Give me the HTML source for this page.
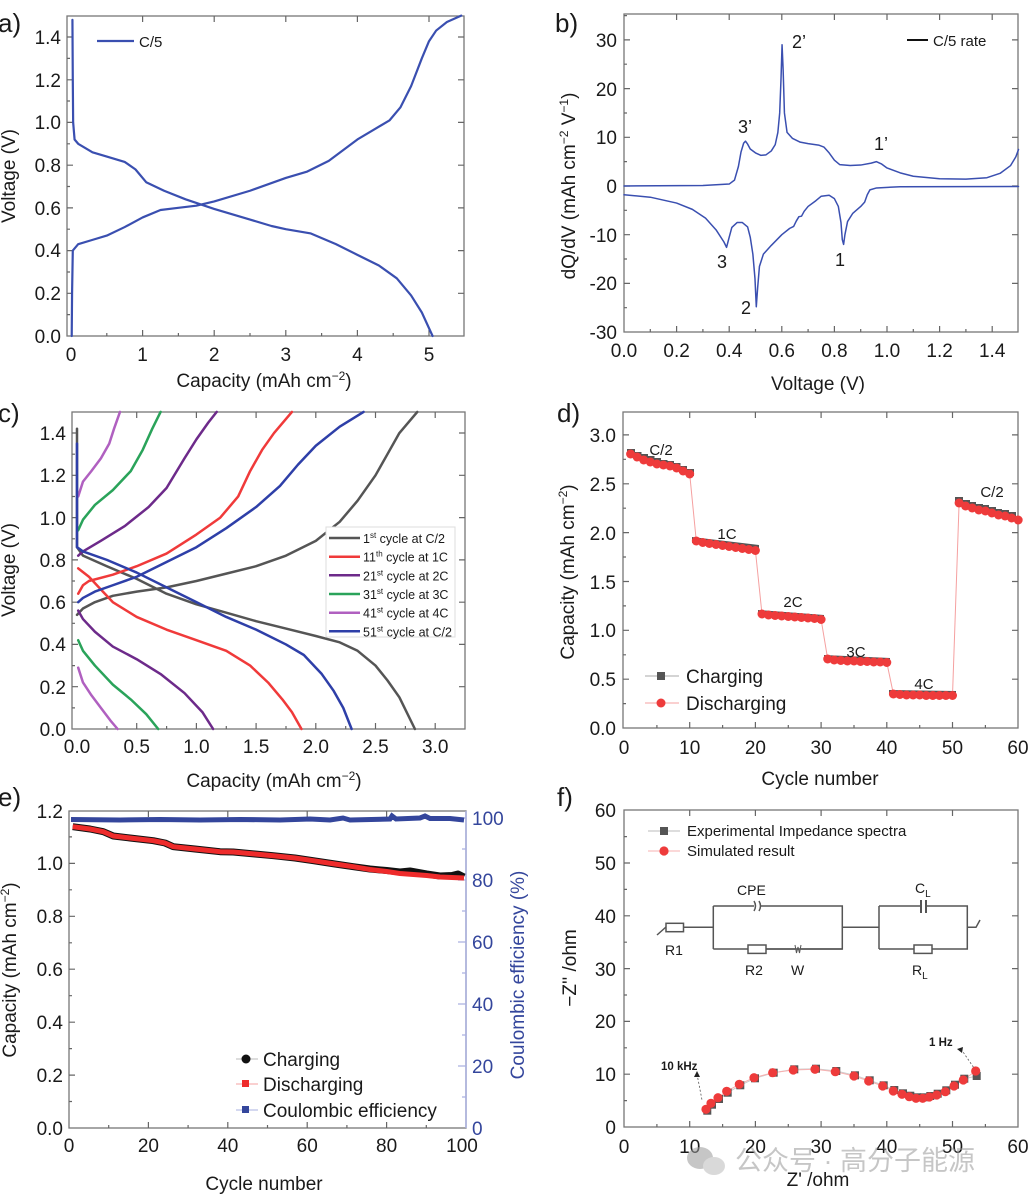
<!DOCTYPE html>
<html><head><meta charset="utf-8"><style>
html,body{margin:0;padding:0;background:#fff;}
svg{display:block;}
text{font-family:"Liberation Sans","Noto Sans CJK SC",sans-serif;fill:#1a1a1a;}
.tk{font-size:19px;}
.ttl{font-size:19px;}
.pl{font-size:26px;}
.box{fill:none;stroke:#777;stroke-width:1.3;}
.tick{stroke:#666;stroke-width:1.2;fill:none;}
.ln{fill:none;vector-effect:non-scaling-stroke;stroke-linejoin:round;stroke-linecap:round;}
</style></head><body>
<svg width="1029" height="1197" viewBox="0 0 1029 1197" xmlns="http://www.w3.org/2000/svg">

<!-- ================= PANEL A ================= -->
<text class="pl" x="-2" y="32">a)</text>
<rect class="box" x="67" y="16" width="397" height="320"/>
<path class="tick" d="M67 293.3h6M67 250.6h6M67 207.9h6M67 165.2h6M67 122.4h6M67 79.8h6M67 37h6
M464 293.3h-6M464 250.6h-6M464 207.9h-6M464 165.2h-6M464 122.4h-6M464 79.8h-6M464 37h-6
M67 314.6h3M67 272h3M67 229.2h3M67 186.5h3M67 143.8h3M67 101h3M67 58.4h3
M142.6 336v-6M214.2 336v-6M285.8 336v-6M357.4 336v-6M429 336v-6
M106.8 336v-3M178.4 336v-3M250 336v-3M321.6 336v-3M393.2 336v-3
M142.6 16v6M214.2 16v6M285.8 16v6M357.4 16v6M429 16v6"/>
<g class="tk" text-anchor="end">
<text x="61" y="343">0.0</text><text x="61" y="300">0.2</text><text x="61" y="257">0.4</text><text x="61" y="215">0.6</text><text x="61" y="172">0.8</text><text x="61" y="129">1.0</text><text x="61" y="87">1.2</text><text x="61" y="44">1.4</text>
</g>
<g class="tk" text-anchor="middle">
<text x="71" y="361">0</text><text x="142.6" y="361">1</text><text x="214.2" y="361">2</text><text x="285.8" y="361">3</text><text x="357.4" y="361">4</text><text x="429" y="361">5</text>
</g>
<text class="ttl" x="264" y="387" text-anchor="middle">Capacity (mAh cm<tspan dy="-7" font-size="12">−2</tspan><tspan dy="7">)</tspan></text>
<text class="ttl" transform="translate(15,176) rotate(-90)" text-anchor="middle">Voltage (V)</text>
<line x1="97" y1="41" x2="134" y2="41" stroke="#3a4fb0" stroke-width="2.2"/>
<text x="139" y="47" font-size="15">C/5</text>
<g transform="matrix(71.6 0 0 -213.6 71 336)">
<polyline class="ln" stroke="#3a4fb0" stroke-width="2.2" points="0.01,0 0.015,0.2 0.025,0.40 0.1,0.43 0.3,0.45 0.5,0.47 0.75,0.51 1,0.555 1.25,0.59 1.5,0.60 1.75,0.61 2,0.63 2.5,0.68 3,0.74 3.3,0.77 3.6,0.82 4,0.92 4.2,0.96 4.45,1.01 4.6,1.07 4.75,1.17 4.9,1.30 5.0,1.38 5.1,1.43 5.25,1.47 5.45,1.5"/>
<polyline class="ln" stroke="#3a4fb0" stroke-width="2.2" points="0.02,1.48 0.025,1.2 0.03,1.0 0.05,0.92 0.1,0.90 0.3,0.86 0.5,0.84 0.75,0.815 0.9,0.78 1.05,0.72 1.3,0.68 1.6,0.64 2,0.595 2.5,0.545 2.8,0.515 3,0.50 3.35,0.48 3.7,0.43 4,0.38 4.3,0.33 4.55,0.27 4.75,0.19 4.9,0.11 5.05,0"/>
</g>

<!-- ================= PANEL B ================= -->
<text class="pl" x="555" y="32">b)</text>
<rect class="box" x="624" y="14" width="394" height="318"/>
<path class="tick" d="M624 283.4h6M624 234.7h6M624 186h6M624 137.3h6M624 88.6h6M624 39.9h6
M624 307.7h3M624 259h3M624 210.3h3M624 161.6h3M624 113h3M624 64.2h3M624 15.6h3
M1018 283.4h-6M1018 234.7h-6M1018 186h-6M1018 137.3h-6M1018 88.6h-6M1018 39.9h-6
M676.6 332v-6M729.2 332v-6M781.8 332v-6M834.4 332v-6M887 332v-6M939.6 332v-6M992.2 332v-6
M650.3 332v-3M702.9 332v-3M755.5 332v-3M808.1 332v-3M860.7 332v-3M913.3 332v-3M965.9 332v-3
M676.6 14v6M729.2 14v6M781.8 14v6M834.4 14v6M887 14v6M939.6 14v6M992.2 14v6"/>
<g class="tk" text-anchor="end">
<text x="617" y="339">-30</text><text x="617" y="290">-20</text><text x="617" y="242">-10</text><text x="617" y="193">0</text><text x="617" y="144">10</text><text x="617" y="96">20</text><text x="617" y="47">30</text>
</g>
<g class="tk" text-anchor="middle">
<text x="624" y="357">0.0</text><text x="676.6" y="357">0.2</text><text x="729.2" y="357">0.4</text><text x="781.8" y="357">0.6</text><text x="834.4" y="357">0.8</text><text x="887" y="357">1.0</text><text x="939.6" y="357">1.2</text><text x="992.2" y="357">1.4</text>
</g>
<text class="ttl" x="818" y="390" text-anchor="middle">Voltage (V)</text>
<text class="ttl" transform="translate(575,186) rotate(-90)" text-anchor="middle">dQ/dV (mAh cm<tspan dy="-7" font-size="12">−2</tspan><tspan dy="7"> V</tspan><tspan dy="-7" font-size="12">−1</tspan><tspan dy="7">)</tspan></text>
<line x1="907" y1="40" x2="928" y2="40" stroke="#111" stroke-width="2"/>
<text x="933" y="46" font-size="15">C/5 rate</text>
<g transform="matrix(263 0 0 -4.87 624 186)">
<polyline class="ln" stroke="#3a4fb0" stroke-width="1.5" points="0,0 0.3,0.1 0.40,0.4 0.42,1.2 0.435,4 0.445,7 0.455,8.8 0.462,9.2 0.47,8.6 0.48,7.6 0.5,6.8 0.52,6.3 0.54,6.4 0.56,7.2 0.575,8.5 0.585,11 0.592,15 0.597,22 0.601,29 0.605,24 0.61,15 0.62,11 0.64,9.8 0.67,9 0.7,8.7 0.74,8.4 0.76,8 0.78,6.8 0.8,5.3 0.82,4.4 0.86,4.2 0.9,4.3 0.94,4.7 0.96,5 0.98,4.5 1.0,3.7 1.05,2.7 1.1,2.0 1.2,1.5 1.3,1.4 1.38,1.7 1.43,2.6 1.47,4.2 1.49,6 1.5,7.5"/>
<polyline class="ln" stroke="#3a4fb0" stroke-width="1.5" points="0,-1.8 0.1,-2.3 0.2,-3.5 0.26,-4.8 0.31,-6.6 0.35,-9 0.38,-11.5 0.39,-12.6 0.40,-10.5 0.41,-8.5 0.43,-7.5 0.45,-7.5 0.47,-8.4 0.48,-10.5 0.49,-14 0.498,-19 0.503,-24.8 0.508,-21 0.515,-16.5 0.53,-14 0.56,-12.2 0.6,-10 0.63,-8.7 0.645,-8.3 0.655,-7.2 0.665,-6.3 0.675,-6.2 0.685,-5.2 0.7,-4.2 0.73,-3 0.75,-2.1 0.78,-1.9 0.8,-2.6 0.815,-4.2 0.825,-7.5 0.83,-11 0.835,-12 0.84,-10 0.85,-7.3 0.87,-5.6 0.9,-4.2 0.915,-3.3 0.925,-1.8 0.935,-0.8 0.96,-0.4 1.05,-0.15 1.5,-0.1"/>
</g>
<g font-size="18">
<text x="738" y="133">3’</text><text x="792" y="48">2’</text><text x="874" y="150">1’</text>
<text x="717" y="268">3</text><text x="741" y="314">2</text><text x="835" y="266">1</text>
</g>

<!-- ================= PANEL C ================= -->
<text class="pl" x="-2" y="422">c)</text>
<rect class="box" x="72" y="412" width="393" height="317"/>
<path class="tick" d="M72 686.7h6M72 644.4h6M72 602.2h6M72 559.9h6M72 517.6h6M72 475.3h6M72 433h6
M72 707.9h3M72 665.6h3M72 623.3h3M72 581h3M72 538.8h3M72 496.5h3M72 454.2h3
M465 686.7h-6M465 644.4h-6M465 602.2h-6M465 559.9h-6M465 517.6h-6M465 475.3h-6M465 433h-6
M136.7 729v-6M196.4 729v-6M256.1 729v-6M315.8 729v-6M375.5 729v-6M435.2 729v-6
M106.9 729v-3M166.6 729v-3M226.3 729v-3M286 729v-3M345.7 729v-3M405.4 729v-3
M136.7 412v6M196.4 412v6M256.1 412v6M315.8 412v6M375.5 412v6M435.2 412v6"/>
<g class="tk" text-anchor="end">
<text x="66" y="736">0.0</text><text x="66" y="694">0.2</text><text x="66" y="651">0.4</text><text x="66" y="609">0.6</text><text x="66" y="567">0.8</text><text x="66" y="525">1.0</text><text x="66" y="482">1.2</text><text x="66" y="440">1.4</text>
</g>
<g class="tk" text-anchor="middle">
<text x="77" y="753">0.0</text><text x="136.7" y="753">0.5</text><text x="196.4" y="753">1.0</text><text x="256.1" y="753">1.5</text><text x="315.8" y="753">2.0</text><text x="375.5" y="753">2.5</text><text x="435.2" y="753">3.0</text>
</g>
<text class="ttl" x="274" y="787" text-anchor="middle">Capacity (mAh cm<tspan dy="-7" font-size="12">−2</tspan><tspan dy="7">)</tspan></text>
<text class="ttl" transform="translate(15,570) rotate(-90)" text-anchor="middle">Voltage (V)</text>
<g transform="matrix(119.4 0 0 -211.4 77 729)">
<polyline class="ln" stroke="#555" stroke-width="2.5" points="0,0.54 0.05,0.57 0.15,0.60 0.3,0.63 0.5,0.65 0.75,0.67 1,0.70 1.25,0.735 1.5,0.77 1.75,0.82 2,0.89 2.2,0.98 2.35,1.08 2.5,1.2 2.6,1.3 2.7,1.4 2.85,1.5"/>
<polyline class="ln" stroke="#555" stroke-width="2.5" points="0,1.42 0,0.86 0.05,0.82 0.25,0.77 0.5,0.71 0.75,0.64 1,0.59 1.25,0.55 1.5,0.51 1.75,0.475 2,0.44 2.2,0.41 2.35,0.37 2.5,0.3 2.6,0.23 2.7,0.15 2.83,0"/>
<polyline class="ln" stroke="#f03a3a" stroke-width="2.5" points="0.01,0.64 0.05,0.68 0.1,0.70 0.3,0.73 0.5,0.77 0.75,0.83 1,0.92 1.2,1.0 1.35,1.1 1.45,1.22 1.55,1.32 1.65,1.4 1.8,1.5"/>
<polyline class="ln" stroke="#f03a3a" stroke-width="2.5" points="0.01,0.76 0.1,0.72 0.2,0.66 0.3,0.6 0.5,0.53 0.75,0.47 1,0.42 1.25,0.37 1.45,0.3 1.6,0.22 1.72,0.14 1.8,0.08 1.88,0"/>
<polyline class="ln" stroke="#6d2a8a" stroke-width="2.5" points="0.01,0.82 0.05,0.84 0.2,0.89 0.4,0.96 0.6,1.05 0.75,1.14 0.9,1.28 1.0,1.37 1.1,1.45 1.17,1.5"/>
<polyline class="ln" stroke="#6d2a8a" stroke-width="2.5" points="0.01,0.56 0.05,0.52 0.15,0.46 0.3,0.39 0.5,0.33 0.7,0.26 0.9,0.17 1.05,0.08 1.14,0"/>
<polyline class="ln" stroke="#2aa35a" stroke-width="2.5" points="0.01,0.94 0.05,0.99 0.15,1.06 0.3,1.13 0.45,1.22 0.55,1.32 0.63,1.42 0.7,1.5"/>
<polyline class="ln" stroke="#2aa35a" stroke-width="2.5" points="0.01,0.42 0.05,0.37 0.15,0.30 0.3,0.21 0.45,0.14 0.58,0.07 0.68,0"/>
<polyline class="ln" stroke="#b060c0" stroke-width="2.5" points="0.01,1.1 0.05,1.17 0.12,1.22 0.2,1.28 0.27,1.35 0.31,1.42 0.36,1.5"/>
<polyline class="ln" stroke="#b060c0" stroke-width="2.5" points="0.01,0.29 0.05,0.22 0.12,0.16 0.2,0.1 0.28,0.04 0.34,0"/>
<polyline class="ln" stroke="#2e3fa8" stroke-width="2.5" points="0.01,0.6 0.05,0.62 0.15,0.65 0.3,0.68 0.5,0.72 0.75,0.79 1,0.86 1.25,0.95 1.5,1.05 1.7,1.15 1.85,1.25 2.0,1.34 2.2,1.43 2.4,1.5"/>
<polyline class="ln" stroke="#2e3fa8" stroke-width="2.5" points="0,1.35 0,0.86 0.05,0.84 0.25,0.80 0.5,0.74 0.75,0.67 1,0.60 1.25,0.53 1.5,0.47 1.75,0.40 1.9,0.35 2.05,0.26 2.15,0.18 2.23,0.1 2.3,0"/>
</g>
<rect x="326" y="527" width="129" height="110" fill="#fff" stroke="#ddd" stroke-width="1"/>
<g stroke-width="2.5">
<line x1="329" y1="538" x2="360" y2="538" stroke="#555"/>
<line x1="329" y1="556.7" x2="360" y2="556.7" stroke="#f03a3a"/>
<line x1="329" y1="575.3" x2="360" y2="575.3" stroke="#6d2a8a"/>
<line x1="329" y1="594" x2="360" y2="594" stroke="#2aa35a"/>
<line x1="329" y1="612.7" x2="360" y2="612.7" stroke="#b060c0"/>
<line x1="329" y1="631.3" x2="360" y2="631.3" stroke="#2e3fa8"/>
</g>
<g font-size="12.5">
<text x="363" y="543">1<tspan dy="-5" font-size="8">st</tspan><tspan dy="5"> cycle at C/2</tspan></text>
<text x="363" y="561.7">11<tspan dy="-5" font-size="8">th</tspan><tspan dy="5">  cycle at 1C</tspan></text>
<text x="363" y="580.3">21<tspan dy="-5" font-size="8">st</tspan><tspan dy="5"> cycle at 2C</tspan></text>
<text x="363" y="599">31<tspan dy="-5" font-size="8">st</tspan><tspan dy="5"> cycle at 3C</tspan></text>
<text x="363" y="617.7">41<tspan dy="-5" font-size="8">st</tspan><tspan dy="5"> cycle at 4C</tspan></text>
<text x="363" y="636.3">51<tspan dy="-5" font-size="8">st</tspan><tspan dy="5"> cycle at C/2</tspan></text>
</g>

<!-- ================= PANEL D ================= -->
<text class="pl" x="557" y="422">d)</text>
<rect class="box" x="623" y="412" width="395" height="316"/>
<path class="tick" d="M623 679.2h6M623 630.3h6M623 581.5h6M623 532.6h6M623 483.8h6M623 434.9h6
M623 703.6h3M623 654.8h3M623 605.9h3M623 557h3M623 508.2h3M623 459.3h3
M1018 679.2h-6M1018 630.3h-6M1018 581.5h-6M1018 532.6h-6M1018 483.8h-6M1018 434.9h-6
M689.7 728v-6M755.4 728v-6M821.1 728v-6M886.8 728v-6M952.5 728v-6
M656.9 728v-3M722.6 728v-3M788.3 728v-3M854 728v-3M919.7 728v-3M985.4 728v-3
M689.7 412v6M755.4 412v6M821.1 412v6M886.8 412v6M952.5 412v6"/>
<g class="tk" text-anchor="end">
<text x="616" y="735">0.0</text><text x="616" y="686">0.5</text><text x="616" y="637">1.0</text><text x="616" y="589">1.5</text><text x="616" y="540">2.0</text><text x="616" y="491">2.5</text><text x="616" y="442">3.0</text>
</g>
<g class="tk" text-anchor="middle">
<text x="624" y="754">0</text><text x="689.7" y="754">10</text><text x="755.4" y="754">20</text><text x="821.1" y="754">30</text><text x="886.8" y="754">40</text><text x="952.5" y="754">50</text><text x="1018" y="754">60</text>
</g>
<text class="ttl" x="820" y="785" text-anchor="middle">Cycle number</text>
<text class="ttl" transform="translate(574,572) rotate(-90)" text-anchor="middle">Capacity (mAh cm<tspan dy="-7" font-size="12">−2</tspan><tspan dy="7">)</tspan></text>
<polyline fill="none" stroke="#f5a0a0" stroke-width="1" points="630.6,454 689.7,474 696.3,541 755.4,550.5 762,614 821.1,619.5 827.7,659 886.8,662.5 893.4,694 952.5,695.5 959.1,503 1018.2,520"/>
<g fill="#555">
<rect x="627" y="449" width="8" height="7"/><rect x="633.5" y="452" width="8" height="7"/><rect x="640" y="454" width="8" height="7"/><rect x="646.5" y="456" width="8" height="7"/><rect x="653" y="458" width="8" height="7"/><rect x="659.5" y="460" width="8" height="7"/><rect x="666" y="461" width="8" height="7"/><rect x="672.5" y="463" width="8" height="7"/><rect x="679" y="466" width="8" height="7"/><rect x="686" y="469" width="8" height="7"/>
<polygon points="692,537 759,545 759,551 692,543"/>
<polygon points="758,610 824,615 824,620 758,615"/>
<polygon points="824,655 890,658 890,663 824,660"/>
<polygon points="889,690 956,691 956,696 889,695"/>
<rect x="955" y="497" width="8" height="7"/><rect x="962" y="500" width="8" height="7"/><rect x="968" y="502" width="8" height="7"/><rect x="975" y="504" width="8" height="7"/><rect x="981" y="505" width="8" height="7"/><rect x="988" y="507" width="8" height="7"/><rect x="994" y="509" width="8" height="7"/><rect x="1001" y="510" width="8" height="7"/><rect x="1008" y="512" width="8" height="7"/>
</g>
<g fill="#ee3b3b">
<circle cx="630.6" cy="454" r="4.5"/><circle cx="637.1" cy="457" r="4.5"/><circle cx="643.7" cy="460" r="4.5"/><circle cx="650.3" cy="462" r="4.5"/><circle cx="656.9" cy="464" r="4.5"/><circle cx="663.4" cy="465" r="4.5"/><circle cx="670" cy="466" r="4.5"/><circle cx="676.6" cy="468" r="4.5"/><circle cx="683.1" cy="471" r="4.5"/><circle cx="689.7" cy="474" r="4.5"/>
<circle cx="696.3" cy="541" r="4.5"/><circle cx="702.8" cy="542.5" r="4.5"/><circle cx="709.4" cy="543.5" r="4.5"/><circle cx="716" cy="544.5" r="4.5"/><circle cx="722.6" cy="545.5" r="4.5"/><circle cx="729.1" cy="546.5" r="4.5"/><circle cx="735.7" cy="547.5" r="4.5"/><circle cx="742.3" cy="548.5" r="4.5"/><circle cx="748.8" cy="549.5" r="4.5"/><circle cx="755.4" cy="550.5" r="4.5"/>
<circle cx="762" cy="614" r="4.5"/><circle cx="768.5" cy="615" r="4.5"/><circle cx="775.1" cy="615.5" r="4.5"/><circle cx="781.7" cy="616" r="4.5"/><circle cx="788.3" cy="616.5" r="4.5"/><circle cx="794.8" cy="617" r="4.5"/><circle cx="801.4" cy="617.5" r="4.5"/><circle cx="808" cy="618" r="4.5"/><circle cx="814.5" cy="618.5" r="4.5"/><circle cx="821.1" cy="619.5" r="4.5"/>
<circle cx="827.7" cy="659" r="4.5"/><circle cx="834.2" cy="660" r="4.5"/><circle cx="840.8" cy="660.5" r="4.5"/><circle cx="847.4" cy="661" r="4.5"/><circle cx="854" cy="661" r="4.5"/><circle cx="860.5" cy="661.5" r="4.5"/><circle cx="867.1" cy="661.5" r="4.5"/><circle cx="873.7" cy="662" r="4.5"/><circle cx="880.2" cy="662" r="4.5"/><circle cx="886.8" cy="662.5" r="4.5"/>
<circle cx="893.4" cy="694" r="4.5"/><circle cx="899.9" cy="694.5" r="4.5"/><circle cx="906.5" cy="695" r="4.5"/><circle cx="913.1" cy="695" r="4.5"/><circle cx="919.7" cy="695" r="4.5"/><circle cx="926.2" cy="695.5" r="4.5"/><circle cx="932.8" cy="695.5" r="4.5"/><circle cx="939.4" cy="695.5" r="4.5"/><circle cx="945.9" cy="695.5" r="4.5"/><circle cx="952.5" cy="695.5" r="4.5"/>
<circle cx="959.1" cy="503" r="4.5"/><circle cx="965.6" cy="506" r="4.5"/><circle cx="972.2" cy="508" r="4.5"/><circle cx="978.8" cy="510" r="4.5"/><circle cx="985.4" cy="511" r="4.5"/><circle cx="991.9" cy="513" r="4.5"/><circle cx="998.5" cy="515" r="4.5"/><circle cx="1005.1" cy="516" r="4.5"/><circle cx="1011.6" cy="518" r="4.5"/><circle cx="1018.2" cy="520" r="4.5"/>
</g>
<g font-size="15" text-anchor="middle">
<text x="661" y="455">C/2</text><text x="727" y="539">1C</text><text x="793" y="607">2C</text><text x="856" y="657">3C</text><text x="924" y="689">4C</text><text x="992" y="497">C/2</text>
</g>
<line x1="645" y1="676" x2="679" y2="676" stroke="#aaa" stroke-width="1"/>
<rect x="657" y="672" width="8" height="8" fill="#555"/>
<line x1="645" y1="703" x2="679" y2="703" stroke="#f5a0a0" stroke-width="1"/>
<circle cx="661" cy="703" r="4.5" fill="#ee3b3b"/>
<text x="686" y="683" font-size="19">Charging</text>
<text x="686" y="710" font-size="19">Discharging</text>

<!-- ================= PANEL E ================= -->
<text class="pl" x="-2" y="806">e)</text>
<rect class="box" x="69" y="811" width="397" height="317"/>
<line x1="466" y1="811" x2="466" y2="1128" stroke="#aab0e0" stroke-width="1.5"/>
<path class="tick" d="M69 1075.1h6M69 1022.2h6M69 969.2h6M69 916.3h6M69 863.4h6
M69 1101.5h3M69 1048.6h3M69 995.7h3M69 942.8h3M69 889.8h3M69 836.9h3
M148.4 1128v-6M227.8 1128v-6M307.2 1128v-6M386.6 1128v-6
M108.7 1128v-3M188.1 1128v-3M267.5 1128v-3M346.9 1128v-3M426.3 1128v-3
M148.4 811v6M227.8 811v6M307.2 811v6M386.6 811v6"/>
<path d="M466 1066h-8M466 1004h-8M466 942h-8M466 880h-8M466 818h-8M466 1097h-4M466 1035h-4M466 973h-4M466 911h-4M466 849h-4" stroke="#aab0e0" stroke-width="1.3"/>
<g class="tk" text-anchor="end">
<text x="63" y="1135">0.0</text><text x="63" y="1082">0.2</text><text x="63" y="1029">0.4</text><text x="63" y="976">0.6</text><text x="63" y="923">0.8</text><text x="63" y="870">1.0</text><text x="63" y="818">1.2</text>
</g>
<g class="tk" text-anchor="middle">
<text x="69" y="1152">0</text><text x="148.4" y="1152">20</text><text x="227.8" y="1152">40</text><text x="307.2" y="1152">60</text><text x="386.6" y="1152">80</text><text x="462" y="1152">100</text>
</g>
<g class="tk">
<text x="472" y="1135" style="fill:#34469c">0</text><text x="472" y="1073" style="fill:#34469c">20</text><text x="472" y="1011" style="fill:#34469c">40</text><text x="472" y="949" style="fill:#34469c">60</text><text x="472" y="887" style="fill:#34469c">80</text><text x="472" y="825" style="fill:#34469c">100</text>
</g>
<text class="ttl" x="264" y="1190" text-anchor="middle">Cycle number</text>
<text class="ttl" transform="translate(16,970) rotate(-90)" text-anchor="middle">Capacity (mAh cm<tspan dy="-7" font-size="12">−2</tspan><tspan dy="7">)</tspan></text>
<text class="ttl" transform="translate(524,975) rotate(-90)" text-anchor="middle" style="fill:#34469c">Coulombic efficiency (%)</text>
<polyline fill="none" stroke="#34469c" stroke-width="5" points="71,819.5 120,820 160,819.5 200,820 240,819.5 280,820 310,819 330,820 343,818 350,820 390,819 392,816 396,819 420,818 425,816 430,818.5 450,818.5 464,820"/>
<polyline fill="none" stroke="#111" stroke-width="7" stroke-linejoin="round" points="72.7,826.7 90,829 103.3,831.7 113.3,836 130,838 153.3,840.7 165,843 173.3,846.7 195,849 220,851.7 233.3,852 255,854 273.3,855.7 295,858 313.3,860.7 335,864 353.3,866.7 370,869 386.7,870.5 400,872 410,871 426.7,874 440,876 452,875.5 458,874 464,877"/>
<polyline fill="none" stroke="#ee2b2b" stroke-width="5" stroke-linejoin="round" points="72.7,826.7 90,829 103.3,831.7 113.3,836 130,838 153.3,840.7 165,843 173.3,846.7 195,849 220,851.7 233.3,852 255,854 273.3,855.7 295,858 313.3,860.7 335,864 353.3,866.7 370,869.5 386.7,871.5 400,873.5 426.7,875.5 440,877 452,877.5 464,878"/>
<line x1="236" y1="1059" x2="258" y2="1059" stroke="#bbb" stroke-width="1"/><circle cx="246" cy="1059" r="4.5" fill="#111"/>
<line x1="236" y1="1084" x2="258" y2="1084" stroke="#f5a0a0" stroke-width="1"/><rect x="242" y="1080" width="7" height="7" fill="#ee2b2b"/>
<line x1="236" y1="1110" x2="258" y2="1110" stroke="#aab0e0" stroke-width="1"/><rect x="242" y="1106" width="7" height="7" fill="#34469c"/>
<text x="263" y="1066" font-size="19">Charging</text>
<text x="263" y="1091" font-size="19">Discharging</text>
<text x="263" y="1117" font-size="19">Coulombic efficiency</text>

<!-- ================= PANEL F ================= -->
<text class="pl" x="557" y="806">f)</text>
<rect class="box" x="624" y="810" width="394" height="317"/>
<path class="tick" d="M624 1074.2h6M624 1021.4h6M624 968.6h6M624 915.8h6M624 863h6
M624 1100.6h3M624 1047.8h3M624 995h3M624 942.2h3M624 889.4h3M624 836.6h3
M1018 1074.2h-6M1018 1021.4h-6M1018 968.6h-6M1018 915.8h-6M1018 863h-6
M689.7 1127v-6M755.4 1127v-6M821.1 1127v-6M886.8 1127v-6M952.5 1127v-6
M656.9 1127v-3M722.6 1127v-3M788.3 1127v-3M854 1127v-3M919.7 1127v-3M985.4 1127v-3
M689.7 810v6M755.4 810v6M821.1 810v6M886.8 810v6M952.5 810v6"/>
<g class="tk" text-anchor="end">
<text x="616" y="1134">0</text><text x="616" y="1081">10</text><text x="616" y="1028">20</text><text x="616" y="976">30</text><text x="616" y="923">40</text><text x="616" y="870">50</text><text x="616" y="817">60</text>
</g>
<g class="tk" text-anchor="middle">
<text x="624" y="1153">0</text><text x="689.7" y="1153">10</text><text x="755.4" y="1153">20</text><text x="821.1" y="1153">30</text><text x="886.8" y="1153">40</text><text x="952.5" y="1153">50</text><text x="1018" y="1153">60</text>
</g>
<text class="ttl" x="818" y="1186" text-anchor="middle">Z' /ohm</text>
<text class="ttl" transform="translate(576,968) rotate(-90)" text-anchor="middle">−Z'' /ohm</text>
<g opacity="0.55">
<ellipse cx="700" cy="1158" rx="13" ry="11" fill="#999"/>
<ellipse cx="714" cy="1166" rx="11" ry="9" fill="#bbb"/>
<text x="735" y="1170" font-size="27" style="fill:#999">公众号 · 高分子能源</text>
</g>
<polyline fill="none" stroke="#ccc" stroke-width="1" points="707.3,1110.7 712,1104.7 719,1099 727.7,1092.7 740.3,1085.3 755,1078.3 773.7,1072.7 794.3,1069.3 816,1068.7 836.3,1071 855,1075.3 869.7,1080.3 883.7,1085.3 894.3,1090 903,1093.3 910.3,1095.7 917,1097.3 923.7,1097.3 930.3,1096 937.7,1093.7 946.3,1090.3 955,1084.7 964.3,1078.7 976.7,1076"/>
<polyline fill="none" stroke="#f7b0b0" stroke-width="1" points="706,1109.3 711,1103.3 718,1097.7 726.7,1091.3 739.3,1084.3 754,1077.7 772.7,1072.7 793.3,1070 815,1069.3 835.3,1071.7 854,1076 868.7,1081 882.7,1086 893.3,1091 902,1094.3 909.3,1096.7 916,1098.3 922.7,1098.3 929.3,1097 936.7,1095 945.3,1091.7 954,1086 963.3,1080 975.7,1071"/>
<g fill="#555">
<rect x="703.3" y="1106.7" width="8" height="8"/><rect x="708" y="1100.7" width="8" height="8"/><rect x="715" y="1095" width="8" height="8"/><rect x="723.7" y="1088.7" width="8" height="8"/><rect x="736.3" y="1081.3" width="8" height="8"/><rect x="751" y="1074.3" width="8" height="8"/><rect x="769.7" y="1068.7" width="8" height="8"/><rect x="790.3" y="1065.3" width="8" height="8"/><rect x="812" y="1064.7" width="8" height="8"/><rect x="832.3" y="1067" width="8" height="8"/><rect x="851" y="1071.3" width="8" height="8"/><rect x="865.7" y="1076.3" width="8" height="8"/><rect x="879.7" y="1081.3" width="8" height="8"/><rect x="890.3" y="1086" width="8" height="8"/><rect x="899" y="1089.3" width="8" height="8"/><rect x="906.3" y="1091.7" width="8" height="8"/><rect x="913" y="1093.3" width="8" height="8"/><rect x="919.7" y="1093.3" width="8" height="8"/><rect x="926.3" y="1092" width="8" height="8"/><rect x="933.7" y="1089.7" width="8" height="8"/><rect x="942.3" y="1086.3" width="8" height="8"/><rect x="951" y="1080.7" width="8" height="8"/><rect x="960.3" y="1074.7" width="8" height="8"/><rect x="972.7" y="1072" width="8" height="8"/>
</g>
<g fill="#ee3b3b">
<circle cx="706" cy="1109.3" r="4.6"/><circle cx="711" cy="1103.3" r="4.6"/><circle cx="718" cy="1097.7" r="4.6"/><circle cx="726.7" cy="1091.3" r="4.6"/><circle cx="739.3" cy="1084.3" r="4.6"/><circle cx="754" cy="1077.7" r="4.6"/><circle cx="772.7" cy="1072.7" r="4.6"/><circle cx="793.3" cy="1070" r="4.6"/><circle cx="815" cy="1069.3" r="4.6"/><circle cx="835.3" cy="1071.7" r="4.6"/><circle cx="854" cy="1076" r="4.6"/><circle cx="868.7" cy="1081" r="4.6"/><circle cx="882.7" cy="1086" r="4.6"/><circle cx="893.3" cy="1091" r="4.6"/><circle cx="902" cy="1094.3" r="4.6"/><circle cx="909.3" cy="1096.7" r="4.6"/><circle cx="916" cy="1098.3" r="4.6"/><circle cx="922.7" cy="1098.3" r="4.6"/><circle cx="929.3" cy="1097" r="4.6"/><circle cx="936.7" cy="1095" r="4.6"/><circle cx="945.3" cy="1091.7" r="4.6"/><circle cx="954" cy="1086" r="4.6"/><circle cx="963.3" cy="1080" r="4.6"/><circle cx="975.7" cy="1071" r="4.6"/>
</g>
<g font-size="11.5" font-weight="bold">
<text x="661" y="1070">10 kHz</text>
<text x="929" y="1046">1 Hz</text>
</g>
<path d="M697 1074 L702 1100" stroke="#555" stroke-width="0.8" stroke-dasharray="2,2" fill="none"/>
<path d="M694 1077 l3 -6 l3 6z" fill="#222"/>
<path d="M961 1049 L974 1068" stroke="#555" stroke-width="0.8" stroke-dasharray="2,2" fill="none"/>
<path d="M957 1049 l6 -2 l-1 6z" fill="#222"/>
<line x1="648" y1="831" x2="680" y2="831" stroke="#bbb" stroke-width="1"/><rect x="660" y="827" width="8" height="8" fill="#555"/>
<line x1="648" y1="851" x2="680" y2="851" stroke="#f7b0b0" stroke-width="1"/><circle cx="664" cy="851" r="4.6" fill="#ee3b3b"/>
<text x="687" y="836" font-size="15">Experimental Impedance spectra</text>
<text x="687" y="856" font-size="15">Simulated result</text>
<g stroke="#555" stroke-width="1.5" fill="none">
<path d="M657 935 L666 927"/>
<rect x="666" y="923.3" width="17.5" height="8.4"/>
<path d="M683.5 927.3 H713.3 M713.3 906 V949 M713.3 906 H754 M760 906 H842.3 V949 H766 M748 949 H713.3 M842.3 927.3 H879 M879 906 V949 M879 906 H920 M925 906 H967.3 V949 H932 M914 949 H879 M967.3 927.3 H976 L980 920"/>
<path d="M754 901 q3 5 0 10 M759 901 q3 5 0 10"/>
<path d="M921 900 V913 M926 900 V913" stroke-width="2"/>
<rect x="748" y="945" width="18" height="8.4"/>
<rect x="914" y="945" width="18" height="8.4"/>
<path d="M766 949 H795 M801 949 H842.3"/>
<path d="M795 945 l1.5 8 l1.5 -6 l1.5 6 l1.5 -8" stroke-width="1"/>
</g>
<g font-size="14">
<text x="737" y="895">CPE</text>
<text x="665" y="955">R1</text>
<text x="745" y="975">R2</text>
<text x="791" y="975">W</text>
<text x="915" y="893">C<tspan dy="4" font-size="10">L</tspan></text>
<text x="912" y="975">R<tspan dy="4" font-size="10">L</tspan></text>
</g>
</svg>
</body></html>
